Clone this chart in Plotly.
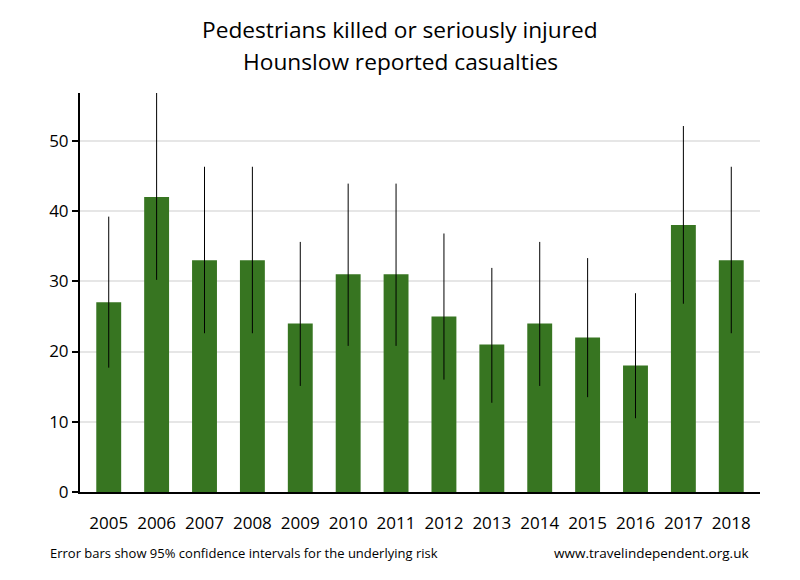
import plotly.graph_objects as go

years = ["2005", "2006", "2007", "2008", "2009", "2010", "2011",
         "2012", "2013", "2014", "2015", "2016", "2017", "2018"]
casualties = [27, 42, 33, 33, 24, 31, 31, 25, 21, 24, 22, 18, 38, 33]
ci_upper = [39.2, 56.8, 46.3, 46.3, 35.6, 43.9, 43.9, 36.8, 31.9, 35.6, 33.3, 28.3, 52.1, 46.3]
ci_lower = [17.7, 30.2, 22.6, 22.6, 15.1, 20.8, 20.8, 16.0, 12.7, 15.1, 13.5, 10.5, 26.8, 22.6]

err_plus = [u - v for u, v in zip(ci_upper, casualties)]
err_minus = [v - l for v, l in zip(casualties, ci_lower)]

font = "Open Sans, Noto Sans, sans-serif"

fig = go.Figure(go.Bar(
    x=list(range(len(years))),
    y=casualties,
    width=0.52,
    marker=dict(color="#377521", line=dict(width=0)),
    error_y=dict(type="data", symmetric=False, array=err_plus, arrayminus=err_minus,
                 color="black", thickness=1, width=0),
    hoverinfo="skip",
))

fig.update_layout(
    width=800, height=580,
    margin=dict(l=80, r=40, t=93, b=88),
    paper_bgcolor="white", plot_bgcolor="white",
    showlegend=False,
    font=dict(family=font, color="black"),
    xaxis=dict(
        tickmode="array", tickvals=list(range(len(years))), ticktext=years,
        range=[-0.6, 13.6], showgrid=False, zeroline=False,
        showline=True, linecolor="black", linewidth=2,
        ticks="", ticklabelstandoff=15,
        tickfont=dict(family=font, size=17, color="black"),
    ),
    yaxis=dict(
        range=[0, 56.8], tickvals=[0, 10, 20, 30, 40, 50],
        showgrid=True, gridcolor="#e6e6e6", gridwidth=2, zeroline=False,
        showline=True, linecolor="black", linewidth=2,
        ticks="outside", ticklen=6, tickwidth=2, tickcolor="black",
        tickfont=dict(family=font, size=17, color="black"),
    ),
    annotations=[
        dict(text="Pedestrians killed or seriously injured",
             xref="paper", yref="paper", x=0.471, y=(492 - 29) / 399,
             xanchor="center", yanchor="middle", showarrow=False,
             font=dict(family=font, size=22.7, color="black")),
        dict(text="Hounslow reported casualties",
             xref="paper", yref="paper", x=0.471, y=(492 - 61) / 399,
             xanchor="center", yanchor="middle", showarrow=False,
             font=dict(family=font, size=22.7, color="black")),
        dict(text="Error bars show 95% confidence intervals for the underlying risk",
             xref="paper", yref="paper", x=-0.047, y=(492 - 553) / 399,
             xanchor="left", yanchor="middle", showarrow=False,
             font=dict(family=font, size=13, color="black")),
        dict(text="www.travelindependent.org.uk",
             xref="paper", yref="paper", x=0.9865, y=(492 - 553) / 399,
             xanchor="right", yanchor="middle", showarrow=False,
             font=dict(family=font, size=13.5, color="black")),
    ],
)

fig.write_html("out.html")
